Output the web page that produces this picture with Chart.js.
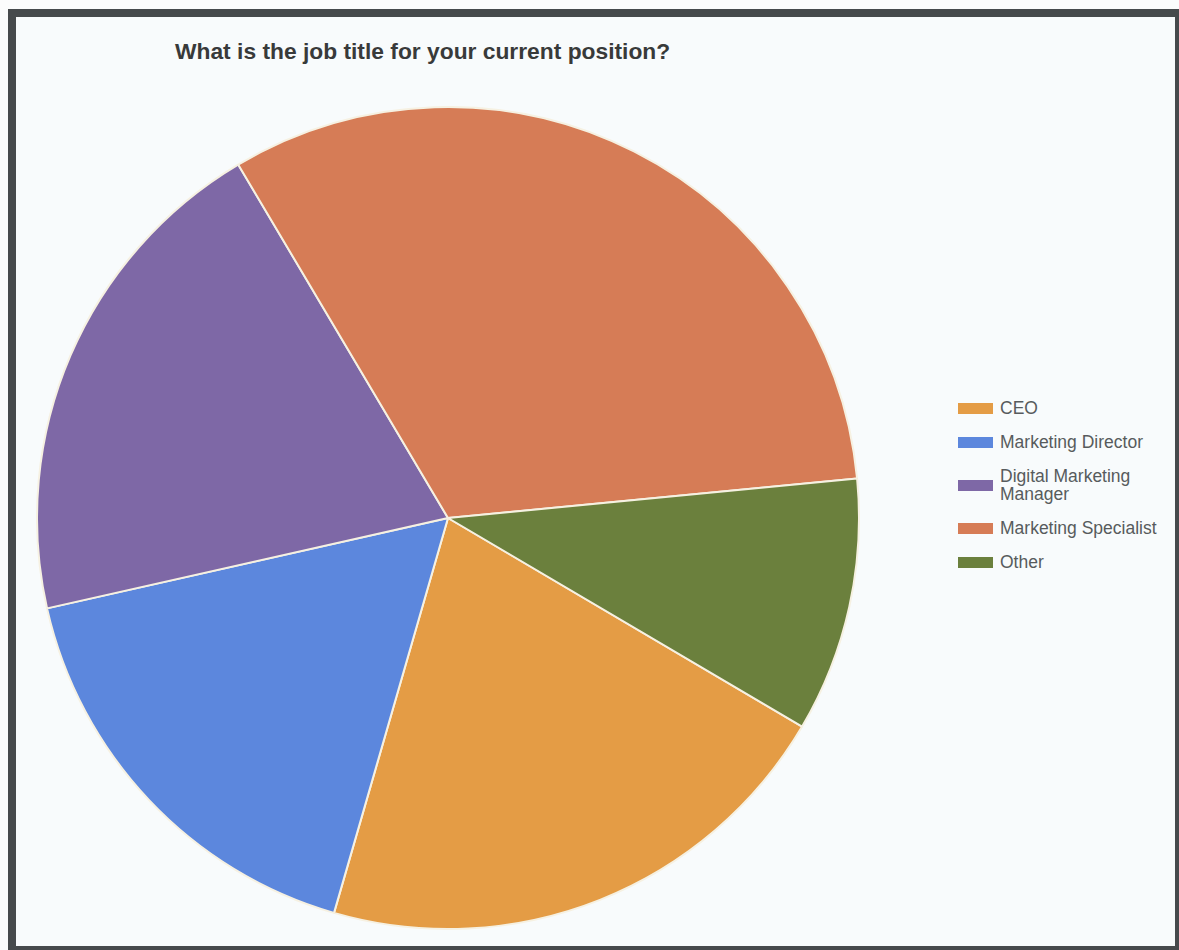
<!DOCTYPE html>
<html>
<head>
<meta charset="utf-8">
<script src="https://cdn.jsdelivr.net/npm/chart.js@4.4.1/dist/chart.umd.min.js"></script>
<style>
    html, body {
        margin: 0;
        padding: 0;
        width: 1179px;
        height: 950px;
        overflow: hidden;
        background: #fbfcfc;
        font-family: "Liberation Sans", Arial, sans-serif;
    }
    #frame {
        position: absolute;
        left: 8px;
        top: 9px;
        width: 1159px;
        height: 929px;
        border-style: solid;
        border-color: #464a4c;
        border-width: 8px 5px 4px 8px;
        background: #f8fbfc;
    }
    #title {
        position: absolute;
        left: 175px;
        top: 38px;
        font-size: 22.8px;
        font-weight: bold;
        color: #383a3a;
        white-space: nowrap;
    }
    #chart-box {
        position: absolute;
        left: 36px;
        top: 106px;
        width: 824px;
        height: 824px;
    }
    #legend {
        position: absolute;
        left: 958px;
        top: 399px;
        width: 215px;
        margin: 0;
        padding: 0;
        list-style: none;
        font-size: 17.5px;
        color: #575b5d;
    }
    #legend li {
        display: flex;
        align-items: center;
        margin-bottom: 16px;
        line-height: 18px;
    }
    #legend .swatch {
        flex: none;
        width: 35px;
        height: 11px;
        margin-right: 7px;
    }
</style>
</head>
<body>
<div id="frame"></div>
<div id="title">What is the job title for your current position?</div>
<div id="chart-box"><canvas id="job-title-chart"></canvas></div>
<ul id="legend"></ul>
<script>
const jobTitles = ['CEO', 'Marketing Director', 'Digital Marketing Manager', 'Marketing Specialist', 'Other'];
const shares = [21, 17, 20, 32, 10];
const sliceColors = ['#e49c45', '#5c87dd', '#7e68a6', '#d67c56', '#6b803d'];

document.addEventListener('DOMContentLoaded', function() {
    const chart = initializeChart();
    buildLegend(chart);
});

function initializeChart() {
    const ctx = document.getElementById('job-title-chart').getContext('2d');
    return new Chart(ctx, {
        type: 'pie',
        data: {
            labels: jobTitles,
            datasets: [{
                data: shares,
                backgroundColor: sliceColors,
                borderColor: '#f6f1e2',
                borderWidth: 2
            }]
        },
        options: {
            responsive: true,
            maintainAspectRatio: false,
            animation: false,
            rotation: 120.5,
            layout: { padding: 0 },
            plugins: {
                legend: { display: false },
                title: { display: false },
                tooltip: { enabled: false }
            }
        }
    });
}

// legend entries come from the chart's own label generator
function buildLegend(chart) {
    const list = document.getElementById('legend');
    const items = chart.options.plugins.legend.labels.generateLabels(chart);
    items.forEach(item => {
        const li = document.createElement('li');
        const box = document.createElement('span');
        box.className = 'swatch';
        box.style.background = item.fillStyle;
        const text = document.createElement('span');
        text.textContent = item.text;
        text.style.maxWidth = '168px';
        li.appendChild(box);
        li.appendChild(text);
        list.appendChild(li);
    });
}
</script>
</body>
</html>
